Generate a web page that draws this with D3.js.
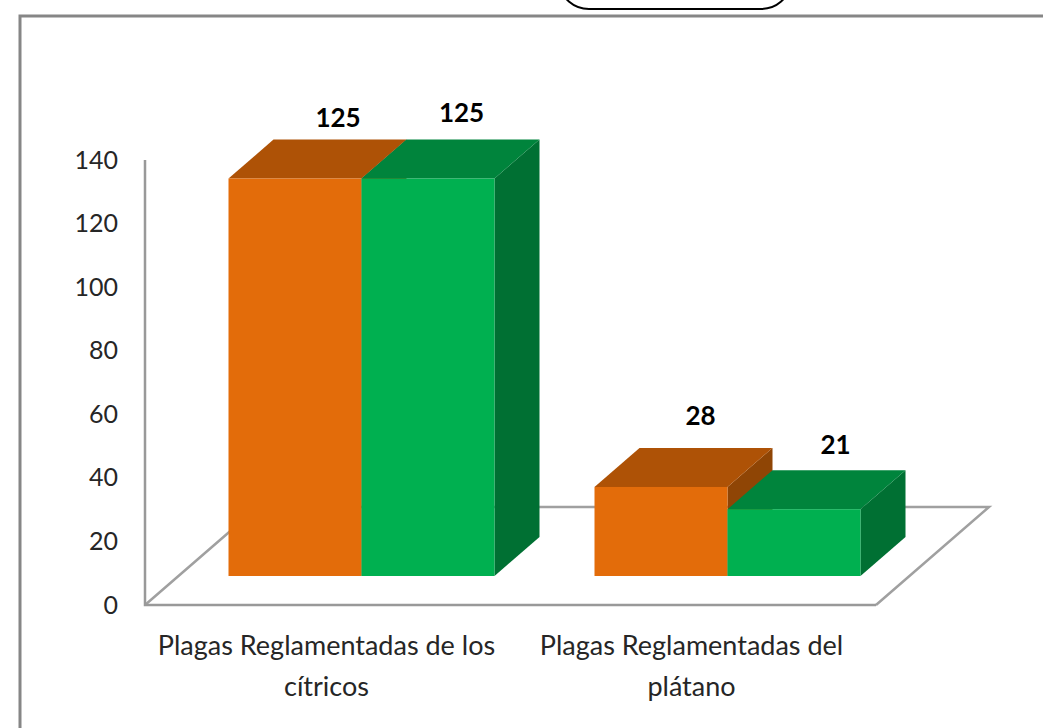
<!DOCTYPE html>
<html><head><meta charset="utf-8">
<script src="https://cdn.jsdelivr.net/npm/d3@7"></script>
<style>html,body{margin:0;padding:0;background:#fff}svg{display:block}text{font-family:Lato,"Open Sans",sans-serif}</style>
</head><body><svg id="c" width="1043" height="728"></svg>
<script>
const categories = ["Plagas Reglamentadas de los cítricos", "Plagas Reglamentadas del plátano"];
const categoryLines = [["Plagas Reglamentadas de los", "cítricos"], ["Plagas Reglamentadas del", "plátano"]];
const seriesNames = ["A", "B"];
const orangeValues = [125, 28];
const greenValues = [125, 21];
const tickValues = [0, 20, 40, 60, 80, 100, 120, 140];
const frontColors = ["#e36c0a", "#00b050"];
const topColors = ["#ae5206", "#00843c"];
const sideColors = ["#8f4505", "#007033"];
const labelNudge = [[[-2, 1], [-11.5, 6]], [[-5.5, 11], [-3.5, 4]]];
const categoryNudge = [-35, -36];

const svg = d3.select("#c");
const W = 1043, H = 728;
const depth = {dx: 45, dy: -39};
const floorDepth = {dx: 113, dy: -98};

// frame
svg.append("path").attr("d", `M${W+3},16 H20 V${H+3}`).attr("fill", "none").attr("stroke", "#868686").attr("stroke-width", 3);
// clipped title box at the top
svg.append("rect").attr("x", 561).attr("y", -40).attr("width", 228).attr("height", 49).attr("rx", 28)
  .attr("fill", "#fff").attr("stroke", "#000").attr("stroke-width", 2);

// scales
const yFront = d3.scaleLinear().domain([0, 140]).range([576, 576 - 140 * 3.18]);
const yWall = d3.scaleLinear().domain([0, 140]).range([605, 160]);
const x0 = d3.scaleBand().domain(categories).range([228.5, 860.5]).paddingInner(100 / 366);
const x1 = d3.scaleBand().domain(seriesNames).range([0, x0.bandwidth()]);

// floor and wall
const fl = 145, fr = 876, fy = yWall(0);
const grey = "#a0a0a0";
svg.append("path").attr("d", `M${fl},${fy} L${fl + floorDepth.dx},${fy + floorDepth.dy} H${fr + floorDepth.dx} L${fr},${fy}`)
  .attr("fill", "none").attr("stroke", grey).attr("stroke-width", 2.5);
svg.append("path").attr("d", `M${fl},${yWall(140)} V${fy} H${fr}`).attr("fill", "none").attr("stroke", "#999").attr("stroke-width", 2.5);

// y axis
const axis = d3.axisLeft(yWall).tickValues(tickValues).tickSize(0).tickPadding(27);
const ag = svg.append("g").attr("transform", `translate(${fl},0)`).call(axis);
ag.select(".domain").remove();
ag.selectAll("text").attr("font-size", 25).attr("fill", "#262626").style("font-family", "Lato");

// bars
const rows = [];
categories.forEach((c, i) => {
  [orangeValues, greenValues].forEach((vals, s) => rows.push({c, i, s, v: vals[i]}));
});
rows.forEach(d => {
  const x = x0(d.c) + x1(seriesNames[d.s]), w = x1.bandwidth();
  const yt = yFront(d.v), yb = yFront(0);
  const g = svg.append("g");
  g.append("polygon").attr("fill", sideColors[d.s])
    .attr("points", [[x+w,yb],[x+w,yt],[x+w+depth.dx,yt+depth.dy],[x+w+depth.dx,yb+depth.dy]].join(" "));
  g.append("polygon").attr("fill", topColors[d.s])
    .attr("points", [[x,yt],[x+depth.dx,yt+depth.dy],[x+w+depth.dx,yt+depth.dy],[x+w,yt]].join(" "));
  g.append("rect").attr("x", x).attr("y", yt).attr("width", w).attr("height", yb - yt).attr("fill", frontColors[d.s]);
  const n = labelNudge[d.i][d.s];
  g.append("text").attr("x", x + w / 2 + depth.dx + n[0]).attr("y", yt + depth.dy - 12 - n[1])
    .attr("text-anchor", "middle").attr("font-size", 26).attr("font-weight", 700).attr("fill", "#000").text(d.v);
});

// category labels
categories.forEach((c, i) => {
  const cx = x0(c) + x0.bandwidth() / 2 + categoryNudge[i];
  const t = svg.append("text").attr("text-anchor", "middle").attr("font-size", 27).attr("fill", "#262626");
  categoryLines[i].forEach((line, j) => t.append("tspan").attr("x", cx).attr("y", 655 + j * 41).text(line));
});
</script></body></html>
